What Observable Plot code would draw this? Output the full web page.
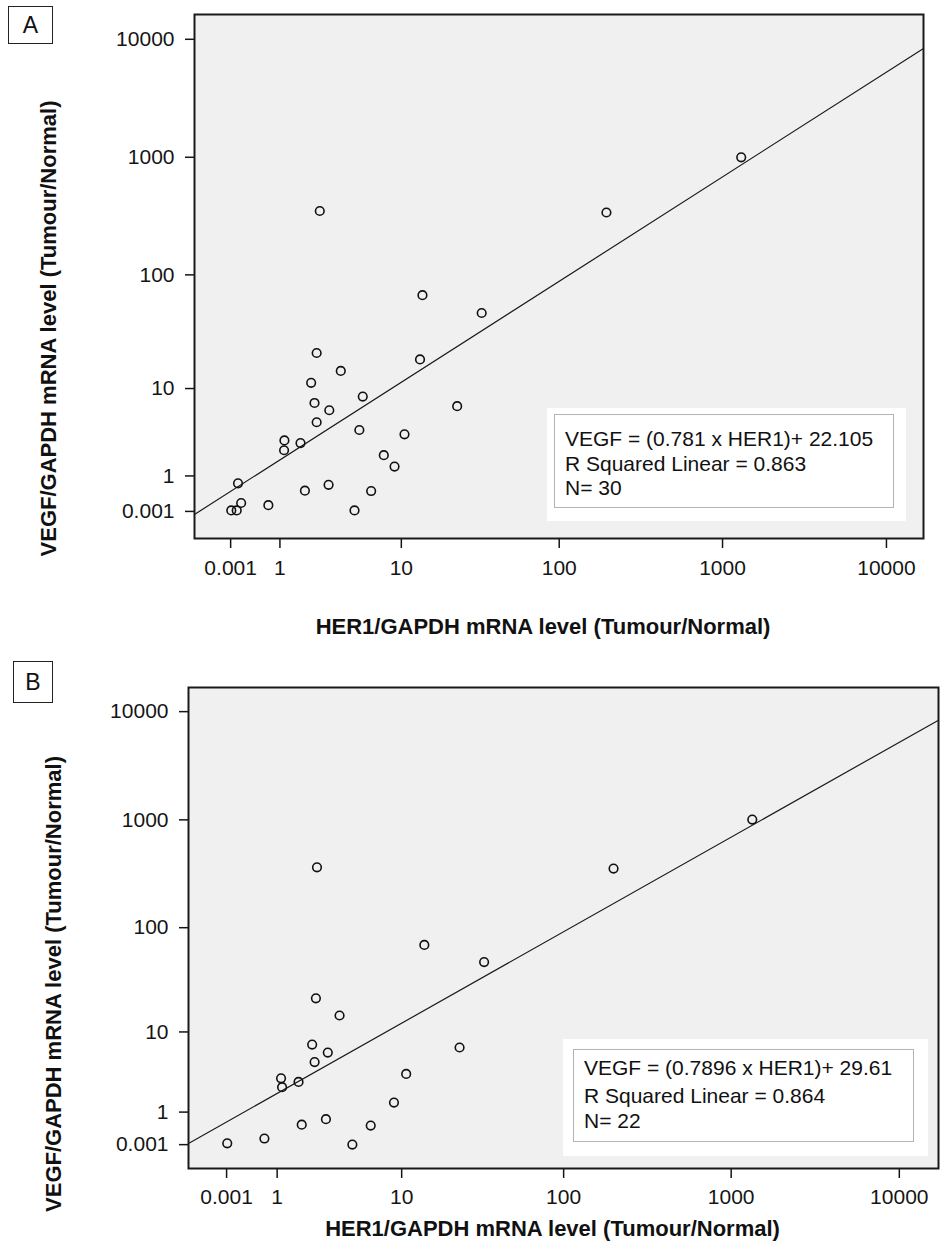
<!DOCTYPE html>
<html><head><meta charset="utf-8">
<script src="https://cdn.jsdelivr.net/npm/d3@7"></script>
<script src="https://cdn.jsdelivr.net/npm/@observablehq/plot@0.6"></script>
<style>
body{margin:0;background:#fff;}
#wrap{position:relative;width:944px;height:1241px;font-family:"Liberation Sans",Arial,sans-serif;overflow:hidden;}
.svgbox{position:absolute;left:0;}
.svgbox svg{display:block;overflow:visible;}
.tag{position:absolute;border:1.5px solid #222;background:#fff;font-size:23px;color:#111;display:flex;align-items:center;justify-content:center;box-sizing:border-box;}
.leg{position:absolute;background:#fff;}
.leg .inner{position:absolute;border:1px solid #b4b4b4;box-sizing:border-box;}
.leg .ln{position:absolute;font-size:21px;color:#111;white-space:nowrap;line-height:1;}
</style></head><body>
<div id="wrap"></div>
<script>
// ---- data ----
const tickValues = [0.001, 1, 10, 100, 1000, 10000];

const her1A = [13.8, 33, 2.35, 3.7, 13.3, 2.1, 5.4, 2.25, 3.0, 23.1, 2.35, 5.1, 10.5, 1.13, 1.12, 1.67, 7.6, 9, 0.11, 1.84, 2.96, 6.2, 0.16, 0.7, 4.7, 0.01, 0.09, 1300, 195, 2.5];
const vegfA = [67, 47, 21, 14.5, 18.4, 11.3, 8.4, 7.3, 6.2, 6.8, 4.7, 3.9, 3.5, 3.0, 2.3, 2.8, 2.0, 1.4, 0.73, 0.5, 0.68, 0.49, 0.18, 0.13, 0.02, 0.02, 0.02, 1000, 340, 350];

const her1B = [14, 33, 2.4, 3.7, 2.23, 3.0, 2.34, 23.3, 10.7, 1.11, 1.14, 1.68, 8.9, 1.8, 2.9, 6.2, 0.01, 0.68, 4.6, 2.45, 199, 1335];
const vegfB = [69, 47.6, 21.5, 14.6, 7.4, 6.1, 4.8, 6.9, 3.5, 3.1, 2.4, 2.8, 1.45, 0.53, 0.72, 0.5, 0.03, 0.14, 0.003, 364, 354, 1006];

// fitted lines as drawn (in log10(value+1) units)
const fitA = {slope: 0.888, intercept: 0.170};
const fitB = {slope: 0.877, intercept: 0.209};

const legendA = ["VEGF = (0.781 x HER1)+ 22.105", "R Squared Linear = 0.863", "N= 30"];
const legendB = ["VEGF = (0.7896 x HER1)+ 29.61", "R Squared Linear = 0.864", "N= 22"];

const xTitle = "HER1/GAPDH mRNA level (Tumour/Normal)";
const yTitle = "VEGF/GAPDH mRNA level (Tumour/Normal)";

// ---- helpers ----
const lp = v => Math.log10(v + 1);
const tickLabel = d => {
  const t = tickValues.find(t => Math.abs(lp(t) - d) < 1e-9);
  return t === undefined ? "" : String(t);
};
const rows = (xs, ys) => xs.map((x, i) => ({her1: x, vegf: ys[i]}));

function panel(cfg) {
  const data = rows(cfg.her1, cfg.vegf);
  const xd = cfg.xDomain;
  return Plot.plot({
    width: 944, height: cfg.height,
    marginLeft: cfg.ml, marginRight: cfg.mr, marginTop: cfg.mt, marginBottom: cfg.mb,
    x: {domain: xd}, y: {domain: cfg.yDomain},
    style: {fontFamily: "'Liberation Sans', Arial, sans-serif", background: "transparent", color: "#151515", overflow: "visible"},
    marks: [
      Plot.frame({fill: "#f0f0f0"}),
      Plot.axisX({ticks: tickValues.map(lp), tickFormat: tickLabel, tickSize: 10, tickPadding: cfg.xpad, fontSize: 21, label: null, strokeWidth: 1.5}),
      Plot.axisY({ticks: tickValues.map(lp), tickFormat: tickLabel, tickSize: 9, tickPadding: 11, fontSize: 21, label: null, strokeWidth: 1.5}),
      Plot.line(xd, {x: d => d, y: d => cfg.fit.intercept + cfg.fit.slope * d, stroke: "#1a1a1a", strokeWidth: 1.2}),
      Plot.dot(data, {x: d => lp(d.her1), y: d => lp(d.vegf), r: 4.3, stroke: "#111", strokeWidth: 1.6, fill: "none"}),
      Plot.frame({stroke: "#1a1a1a", strokeWidth: 2}),
      Plot.text([xTitle], {frameAnchor: "bottom", text: d => d, dx: cfg.xtdx, dy: cfg.xtdy, lineAnchor: "middle", textAnchor: "middle", fontSize: 22, fontWeight: "bold", fill: "#111"}),
      Plot.text([yTitle], {frameAnchor: "left", text: d => d, rotate: -90, dx: cfg.ytdx, dy: cfg.ytdy, lineAnchor: "middle", textAnchor: "middle", fontSize: 22, fontWeight: "bold", fill: "#111"})
    ]
  });
}

const wrap = document.getElementById("wrap");

function place(node, top) {
  const box = document.createElement("div");
  box.className = "svgbox";
  box.style.top = top + "px";
  box.appendChild(node);
  wrap.appendChild(box);
}

place(panel({
  her1: her1A, vegf: vegfA, fit: fitA, height: 640,
  ml: 194, mr: 21, mt: 14, mb: 102,
  xDomain: [-0.22, 4.226], yDomain: [-0.229, 4.21],
  xpad: 12, xtdx: -16, xtdy: 88, ytdx: -146, ytdy: 52
}), 0);

place(panel({
  her1: her1B, vegf: vegfB, fit: fitB, height: 601,
  ml: 188, mr: 6, mt: 47, mb: 73,
  xDomain: [-0.226, 4.233], yDomain: [-0.22, 4.223],
  xpad: 11, xtdx: -11, xtdy: 60, ytdx: -135, ytdy: 56
}), 640);

function tag(text, l, t, w, h) {
  const d = document.createElement("div");
  d.className = "tag";
  Object.assign(d.style, {left: l + "px", top: t + "px", width: w + "px", height: h + "px"});
  d.textContent = text;
  wrap.appendChild(d);
}
tag("A", 8, 6, 45, 38);
tag("B", 13, 661, 40, 42);

function legend(lines, o) {
  const d = document.createElement("div");
  d.className = "leg";
  Object.assign(d.style, {left: o.l + "px", top: o.t + "px", width: o.w + "px", height: o.h + "px"});
  const inner = document.createElement("div");
  inner.className = "inner";
  Object.assign(inner.style, {left: o.il + "px", top: o.it + "px", width: o.iw + "px", height: o.ih + "px"});
  d.appendChild(inner);
  lines.forEach((s, i) => {
    const ln = document.createElement("div");
    ln.className = "ln";
    ln.style.left = o.tx + "px";
    ln.style.top = o.ty[i] + "px";
    ln.textContent = s;
    d.appendChild(ln);
  });
  wrap.appendChild(d);
}
legend(legendA, {l: 547, t: 408, w: 359, h: 113, il: 7, it: 6, iw: 340, ih: 94, tx: 18, ty: [20, 45, 69]});
legend(legendB, {l: 563, t: 1039, w: 365, h: 117, il: 10, it: 10, iw: 341, ih: 93, tx: 21, ty: [18, 46, 71]});
</script>
</body></html>
